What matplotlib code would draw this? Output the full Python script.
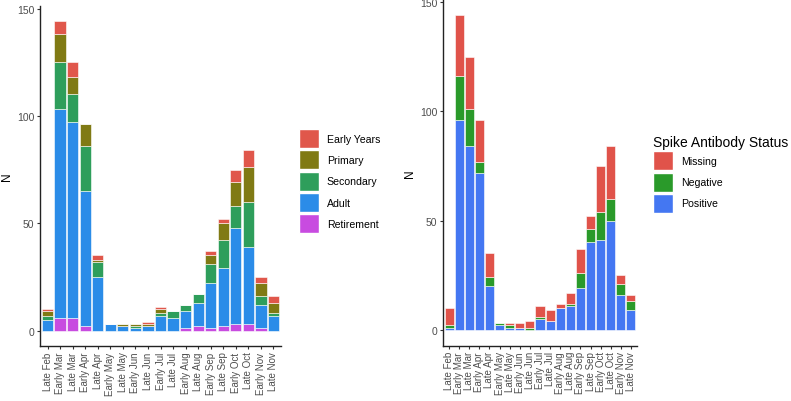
import numpy as np
import matplotlib.pyplot as plt
from matplotlib.patches import Patch

plt.rcParams['font.family'] = ['Liberation Sans', 'DejaVu Sans']

# periods on the x axis
periods = ["Late Feb", "Early Mar", "Late Mar", "Early Apr", "Late Apr",
           "Early May", "Late May", "Early Jun", "Late Jun", "Early Jul",
           "Late Jul", "Early Aug", "Late Aug", "Early Sep", "Late Sep",
           "Early Oct", "Late Oct", "Early Nov", "Late Nov"]

# left panel: counts by age group
retirement = [0, 6, 6, 2, 0, 0, 0, 0, 0, 0, 0, 1, 2, 1, 2, 3, 3, 1, 0]
adult = [5, 97, 91, 63, 25, 3, 2, 1, 2, 7, 6, 8, 11, 21, 27, 45, 36, 11, 7]
secondary = [2, 22, 13, 21, 7, 0, 0, 1, 0, 1, 3, 3, 4, 9, 13, 10, 21, 4, 1]
primary = [2, 13, 8, 10, 1, 0, 1, 1, 1, 2, 0, 0, 0, 4, 8, 11, 16, 6, 5]
early_years = [1, 6, 7, 0, 2, 0, 0, 0, 1, 1, 0, 0, 0, 2, 2, 6, 8, 3, 3]

# right panel: counts by spike antibody status
positive = [1, 96, 84, 72, 20, 2, 1, 1, 0, 5, 4, 10, 11, 19, 40, 41, 50, 16, 9]
negative = [1, 20, 17, 5, 4, 1, 1, 0, 1, 1, 0, 0, 1, 7, 6, 13, 10, 5, 4]
missing = [8, 28, 24, 19, 11, 0, 1, 2, 3, 5, 5, 2, 5, 11, 6, 21, 24, 4, 3]

age_groups = [("Retirement", retirement, "#C84BE0"),
              ("Adult", adult, "#2B8CE8"),
              ("Secondary", secondary, "#2E9E5B"),
              ("Primary", primary, "#807A14"),
              ("Early Years", early_years, "#E0574B")]
status = [("Positive", positive, "#4477F2"),
          ("Negative", negative, "#2A9A2A"),
          ("Missing", missing, "#E0534A")]

fig = plt.figure(figsize=(7.91, 4.02), dpi=100)
ax1 = fig.add_axes([40 / 791, 55 / 402, 241 / 791, 340 / 402])
ax2 = fig.add_axes([443 / 791, 55.5 / 402, 194 / 791, 346 / 402])


def stacked(ax, groups):
    x = np.arange(len(periods))
    bottom = np.zeros(len(periods))
    for name, vals, col in groups:
        vals = np.array(vals, dtype=float)
        ax.bar(x, vals, bottom=bottom, width=0.9, color=col,
               edgecolor="white", linewidth=0.4, label=name)
        bottom += vals
    ax.set_xlim(-0.6, len(periods) - 0.4)
    ax.set_ylim(-7.2, 151.2)
    ax.set_yticks([0, 50, 100, 150])
    ax.set_xticks(x)
    ax.set_xticklabels(periods, rotation=90, fontsize=7.0, color="#4D4D4D")
    ax.tick_params(axis="y", labelsize=7.5, labelcolor="#4D4D4D",
                   length=2.5, width=0.8, color="#333333", pad=1.5)
    ax.tick_params(axis="x", length=2.5, width=0.8, color="#333333", pad=1.5)
    for s in ["top", "right"]:
        ax.spines[s].set_visible(False)
    for s in ["left", "bottom"]:
        ax.spines[s].set_linewidth(1.0)
        ax.spines[s].set_color("#222222")
    ax.set_ylabel("N", fontsize=8.5, labelpad=3)


stacked(ax1, age_groups)
stacked(ax2, status)

h1 = [Patch(facecolor=c, edgecolor="white", label=n) for n, _, c in age_groups[::-1]]
fig.legend(handles=h1, loc="upper left", bbox_to_anchor=(294 / 791, 1 - 125 / 402),
           frameon=False, fontsize=7.6, handlelength=1.9, handleheight=2.4,
           labelspacing=0.2, handletextpad=0.7, borderpad=0)

h2 = [Patch(facecolor=c, edgecolor="white", label=n) for n, _, c in status[::-1]]
fig.legend(handles=h2, loc="upper left", bbox_to_anchor=(648 / 791, 1 - 131 / 402),
           frameon=False, fontsize=7.6, title="Spike Antibody Status",
           title_fontsize=10, alignment="left", handlelength=1.9,
           handleheight=2.4, labelspacing=0.2, handletextpad=0.7, borderpad=0)

fig.savefig("out.png", dpi=100)
